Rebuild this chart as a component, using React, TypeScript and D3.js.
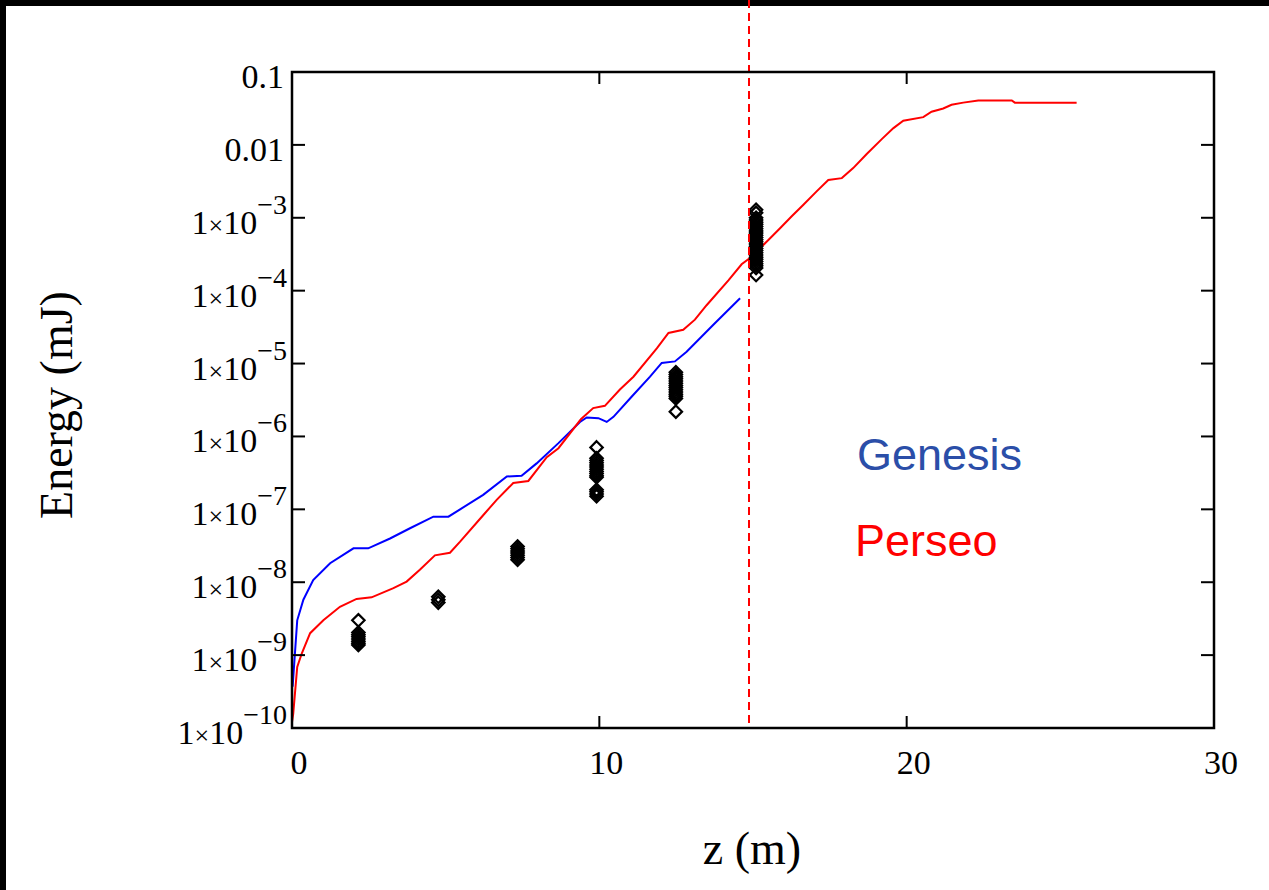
import React from "react";
import * as d3 from "d3";

// Perseo simulation (z in m, energy in mJ)
const perseoZ = [0.0, 0.04, 0.17, 0.32, 0.59, 1.02, 1.56, 2.1, 2.59, 3.3, 3.73, 4.16, 4.65, 5.14, 5.47, 6.22, 6.66, 7.2, 7.69, 8.29, 8.67, 9.4, 9.8, 10.18, 10.67, 11.11, 11.87, 12.25, 12.73, 13.11, 13.49, 14.2, 14.63, 14.9, 15.5, 15.88, 16.26, 16.64, 17.07, 17.45, 17.89, 18.26, 18.7, 19.19, 19.57, 19.89, 20.54, 20.81, 21.19, 21.46, 21.84, 22.33, 23.42, 23.52, 25.53];
const perseoE = [1.2e-10, 1.58e-10, 6.9e-10, 1.06e-9, 2.0e-9, 3.0e-9, 4.6e-9, 5.9e-9, 6.2e-9, 8.3e-9, 1.02e-8, 1.48e-8, 2.34e-8, 2.54e-8, 3.6e-8, 8.3e-8, 1.35e-7, 2.3e-7, 2.45e-7, 5.2e-7, 6.9e-7, 1.72e-6, 2.45e-6, 2.63e-6, 4.4e-6, 6.6e-6, 1.62e-5, 2.63e-5, 2.9e-5, 4.0e-5, 6.31e-5, 1.38e-4, 2.3e-4, 2.8e-4, 4.95e-4, 7.2e-4, 1.05e-3, 1.51e-3, 2.3e-3, 3.3e-3, 3.5e-3, 4.8e-3, 7.5e-3, 1.2e-2, 1.7e-2, 2.14e-2, 2.4e-2, 2.85e-2, 3.16e-2, 3.55e-2, 3.8e-2, 4.07e-2, 4.07e-2, 3.8e-2, 3.8e-2];

// Genesis simulation
const genesisZ = [0.02, 0.17, 0.37, 0.69, 1.24, 2.0, 2.48, 3.19, 3.84, 4.6, 5.09, 5.47, 6.22, 6.99, 7.47, 7.96, 8.67, 9.37, 9.59, 9.97, 10.24, 10.46, 11.05, 11.65, 12.03, 12.46, 12.84, 13.71, 14.58];
const genesisE = [3.7e-10, 3.0e-9, 5.75e-9, 1.07e-8, 1.82e-8, 2.92e-8, 2.92e-8, 3.98e-8, 5.5e-8, 7.94e-8, 7.94e-8, 1.0e-7, 1.58e-7, 2.82e-7, 2.88e-7, 4.27e-7, 8.1e-7, 1.58e-6, 1.82e-6, 1.78e-6, 1.58e-6, 1.86e-6, 3.5e-6, 6.6e-6, 1.02e-5, 1.07e-5, 1.45e-5, 3.4e-5, 7.85e-5];

// Measured shots (diamonds)
const shotZ = [2.16, 4.76, 7.34, 9.91, 12.49, 15.1];
const shotE1 = [3.0e-9, 2.04e-9, 1.91e-9, 1.78e-9, 1.66e-9, 1.55e-9, 1.45e-9, 1.38e-9];
const shotE2 = [6.3e-9, 5.75e-9, 5.25e-9];
const shotE3 = [3.09e-8, 2.88e-8, 2.69e-8, 2.51e-8, 2.34e-8, 2.19e-8, 2.04e-8];
const shotE4 = [7.08e-7, 5.01e-7, 4.68e-7, 4.37e-7, 4.07e-7, 3.8e-7, 3.55e-7, 3.31e-7, 3.09e-7, 2.88e-7, 2.75e-7, 1.86e-7, 1.74e-7, 1.62e-7, 1.51e-7];
const shotE5 = [7.59e-6, 7.08e-6, 6.61e-6, 6.17e-6, 5.75e-6, 5.37e-6, 5.01e-6, 4.68e-6, 4.37e-6, 4.07e-6, 3.8e-6, 3.55e-6, 3.31e-6, 2.19e-6];
const shotE6 = [1.29e-3, 1.17e-3, 1.0e-3, 9.33e-4, 8.71e-4, 8.13e-4, 7.59e-4, 7.08e-4, 6.61e-4, 6.17e-4, 5.75e-4, 5.37e-4, 5.01e-4, 4.68e-4, 4.37e-4, 4.07e-4, 3.8e-4, 3.55e-4, 3.31e-4, 3.09e-4, 2.88e-4, 2.69e-4, 2.51e-4, 2.34e-4, 2.19e-4, 2.04e-4, 1.64e-4];
const shotGroups = [shotE1, shotE2, shotE3, shotE4, shotE5, shotE6];

const saturationZ = 14.87;

const xTicks = [0, 10, 20, 30];
const yTicks = [1e-10, 1e-9, 1e-8, 1e-7, 1e-6, 1e-5, 1e-4, 1e-3, 0.01, 0.1];
const yTickLabels = ["-10", "-9", "-8", "-7", "-6", "-5", "-4", "-3", "0.01", "0.1"];

export default function App() {
  const W = 1269, H = 890;
  const L = 292, R = 1214, T = 72, B = 728;
  const x = d3.scaleLinear().domain([0, 30]).range([L, R]);
  const y = d3.scaleLog().domain([1e-10, 0.1]).range([B, T]);

  const line = d3.line<[number, number]>().x(d => x(d[0])).y(d => y(d[1]));
  const perseoPath = line(perseoZ.map((z, i) => [z, perseoE[i]] as [number, number])) || "";
  const genesisPath = line(genesisZ.map((z, i) => [z, genesisE[i]] as [number, number])) || "";

  const dh = 6.2;
  const diamond = `M0,${-dh}L${dh},0L0,${dh}L${-dh},0Z`;
  const serif = "'Liberation Serif', 'Times New Roman', serif";
  const sans = "'Liberation Sans', Arial, sans-serif";

  return (
    <svg width={W} height={H} style={{ position: "absolute", left: 0, top: 0, background: "#fff" }}>
      <rect x={0} y={0} width={W} height={H} fill="#fff" />
      <rect x={0} y={0} width={W} height={6} fill="#000" />
      <rect x={0} y={0} width={6} height={H} fill="#000" />

      {/* curves */}
      <path d={genesisPath} fill="none" stroke="#0000ff" strokeWidth={2} />
      <path d={perseoPath} fill="none" stroke="#ff0000" strokeWidth={2} />

      {/* measured points */}
      {shotGroups.map((g, gi) =>
        g.map((e, i) => (
          <path key={`${gi}-${i}`} d={diamond} transform={`translate(${x(shotZ[gi])},${y(e)})`}
            fill="none" stroke="#000" strokeWidth={2.2} />
        ))
      )}

      {/* dashed saturation line */}
      <line x1={x(saturationZ)} x2={x(saturationZ)} y1={0} y2={B} stroke="#ff0000" strokeWidth={2} strokeDasharray="8,5" />

      {/* frame */}
      <rect x={L} y={T} width={R - L} height={B - T} fill="none" stroke="#000" strokeWidth={2.5} />

      {/* y ticks */}
      {yTicks.map((t, i) => (
        <g key={`yt${i}`}>
          <line x1={L} x2={L + 13} y1={y(t)} y2={y(t)} stroke="#000" strokeWidth={2} />
          <line x1={R - 13} x2={R} y1={y(t)} y2={y(t)} stroke="#000" strokeWidth={2} />
          {t >= 0.01 ? (
            <text x={284} y={y(t) + 16} textAnchor="end" fontFamily={serif} fontSize={34} fill="#000">
              {yTickLabels[i]}
            </text>
          ) : (
            <text x={287} y={y(t) + 16} textAnchor="end" fontFamily={serif} fontSize={34} fill="#000">
              1<tspan fontSize={26}>×</tspan>10
              <tspan fontSize={28} dy={-20}>{"\u2212" + yTickLabels[i].slice(1)}</tspan>
            </text>
          )}
        </g>
      ))}

      {/* x ticks */}
      {xTicks.map((t, i) => (
        <g key={`xt${i}`}>
          {t > 0 && t < 30 && (
            <>
              <line x1={x(t)} x2={x(t)} y1={B} y2={B - 12} stroke="#000" strokeWidth={2} />
              <line x1={x(t)} x2={x(t)} y1={T} y2={T + 12} stroke="#000" strokeWidth={2} />
            </>
          )}
          <text x={x(t) + 7} y={774} textAnchor="middle" fontFamily={serif} fontSize={34} fill="#000">
            {t}
          </text>
        </g>
      ))}

      {/* axis titles */}
      <text x={752} y={864} textAnchor="middle" fontFamily={serif} fontSize={46} fill="#000">z (m)</text>
      <text transform="translate(72,405) rotate(-90)" textAnchor="middle" fontFamily={serif} fontSize={46} fill="#000">
        Energy (mJ)
      </text>

      {/* legend labels */}
      <text x={857} y={470} fontFamily={sans} fontSize={45} fill="#2b4ea8">Genesis</text>
      <text x={855} y={556} fontFamily={sans} fontSize={45} fill="#ff0000">Perseo</text>
    </svg>
  );
}
